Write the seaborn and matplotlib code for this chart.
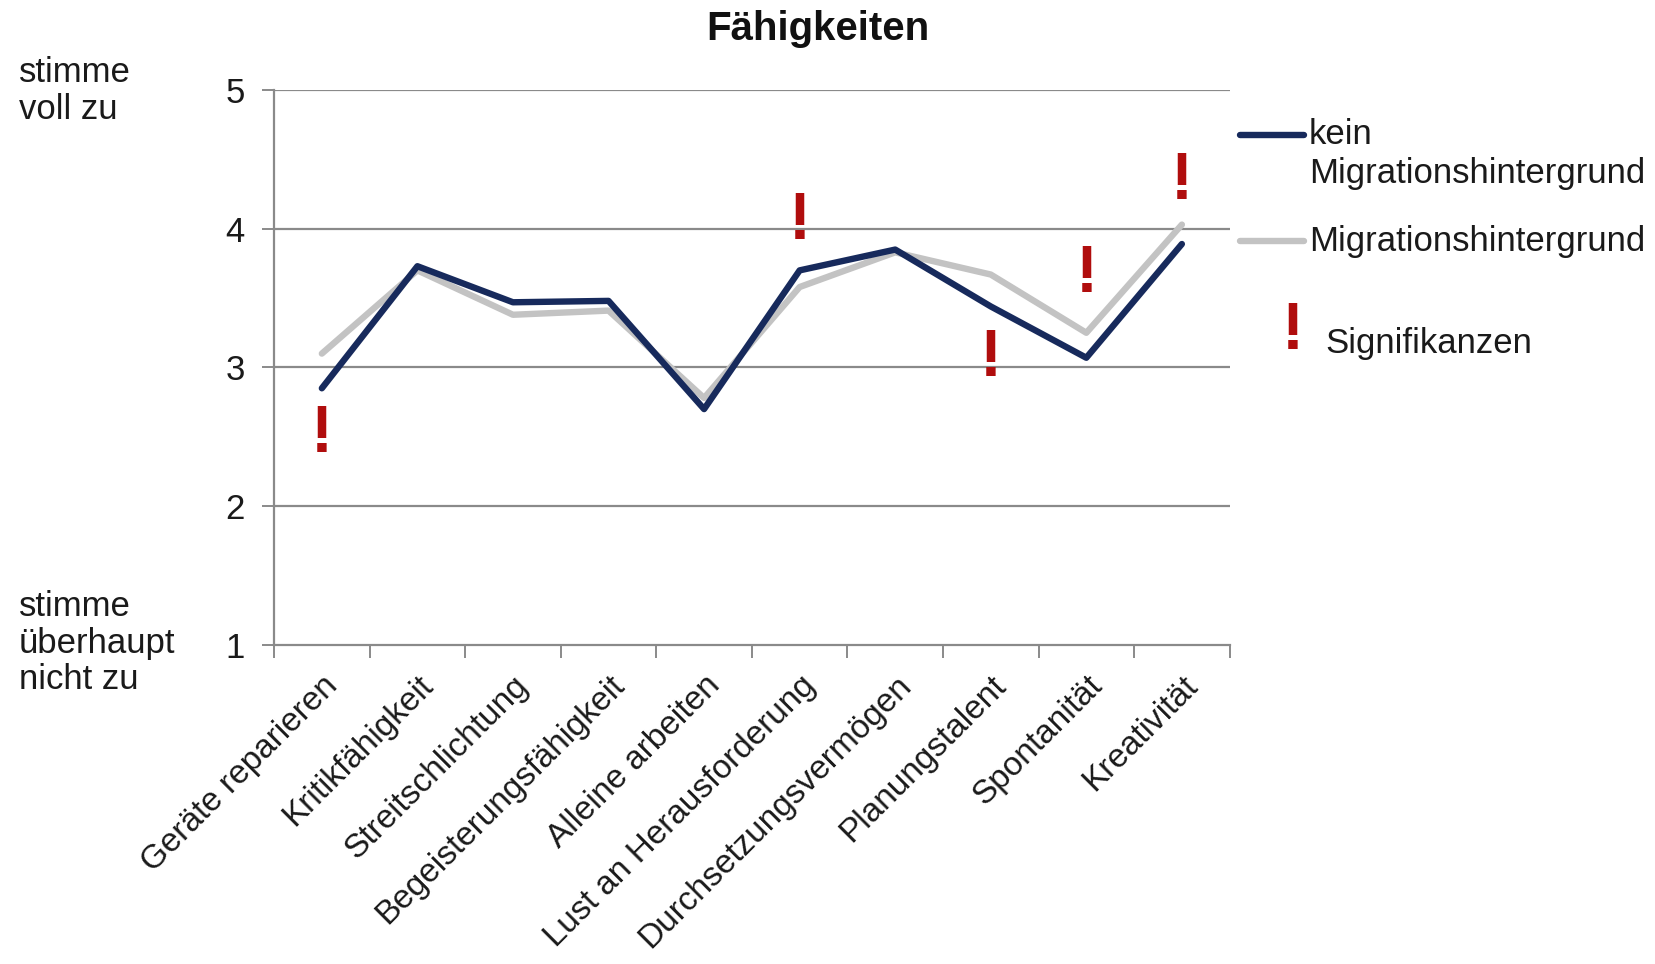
import matplotlib
matplotlib.use("Agg")
import matplotlib.pyplot as plt
import seaborn as sns
import pandas as pd
from matplotlib.lines import Line2D
from matplotlib.ticker import FixedLocator

categories = ["Geräte reparieren", "Kritikfähigkeit", "Streitschlichtung",
              "Begeisterungsfähigkeit", "Alleine arbeiten", "Lust an Herausforderung",
              "Durchsetzungsvermögen", "Planungstalent", "Spontanität", "Kreativität"]
kein_migration = [2.85, 3.73, 3.47, 3.48, 2.70, 3.70, 3.85, 3.44, 3.07, 3.89]
migration = [3.10, 3.70, 3.38, 3.41, 2.78, 3.58, 3.83, 3.67, 3.25, 4.03]
sig_index = [0, 5, 7, 8, 9]
sig_y = [2.51, 4.05, 3.06, 3.67, 4.34]
y_ticks = [1, 2, 3, 4, 5]

sns.set_theme(style="white")
plt.rcParams['font.family'] = ['Liberation Sans', 'DejaVu Sans']

DARK = "#172a5c"
LIGHT = "#c3c3c3"
RED = "#b00d0d"
GRID = "#8a8a8a"
TXT = "#1a1a1a"
FS = 25

df_k = pd.DataFrame({"x": range(len(categories)), "y": kein_migration})
df_m = pd.DataFrame({"x": range(len(categories)), "y": migration})

fig = plt.figure(figsize=(16.55, 9.64), dpi=100)
ax = fig.add_axes([0.1656, 0.331, 0.743 - 0.1656, 0.9066 - 0.331])

sns.lineplot(data=df_m, x="x", y="y", ax=ax, color=LIGHT, linewidth=4.6, zorder=3)
sns.lineplot(data=df_k, x="x", y="y", ax=ax, color=DARK, linewidth=4.6, zorder=4)

ax.set_xlim(-0.5, len(categories) - 0.5)
ax.set_ylim(1, 5)
ax.set_yticks(y_ticks)
ax.set_yticklabels([str(t) for t in y_ticks], fontsize=FS, color=TXT)
for t in y_ticks[1:]:
    ax.axhline(t, color=GRID, linewidth=1.6, zorder=1)

ax.set_xticks(range(len(categories)))
ax.set_xticklabels(categories, rotation=45, ha="right", rotation_mode="anchor",
                   fontsize=24, color=TXT)
ax.xaxis.set_minor_locator(FixedLocator([i - 0.5 for i in range(len(categories) + 1)]))
ax.tick_params(axis="x", which="major", length=0, pad=18)
ax.tick_params(axis="x", which="minor", length=9, width=1.4, color=GRID, direction="out", bottom=True)
ax.tick_params(axis="y", which="major", length=9, width=1.4, color=GRID, direction="out", left=True, pad=12)
ax.set_xlabel("")
ax.set_ylabel("")

for side in ["top", "right"]:
    ax.spines[side].set_visible(False)
for side in ["left", "bottom"]:
    ax.spines[side].set_color(GRID)
    ax.spines[side].set_linewidth(1.6)

for i, yv in zip(sig_index, sig_y):
    ax.text(i, yv, "!", color=RED, fontsize=48, fontweight="bold",
            ha="center", va="center", zorder=5)

fig.text(818 / 1655, 1 - 29 / 964, "Fähigkeiten", fontsize=29, fontweight="bold",
         ha="center", va="center", color="#111111")

fig.text(19 / 1655, 1 - 91 / 964, "stimme\nvoll zu", fontsize=FS, ha="left", va="center",
         linespacing=1.15, color=TXT)
fig.text(19 / 1655, 1 - 643 / 964, "stimme\nüberhaupt\nnicht zu", fontsize=FS, ha="left",
         va="center", linespacing=1.15, color=TXT)

# legend (manual)
fig.add_artist(Line2D([1240 / 1655, 1304 / 1655], [1 - 135 / 964, 1 - 135 / 964],
                      color=DARK, linewidth=4.6, transform=fig.transFigure))
fig.text(1309 / 1655, 1 - 135 / 964, "kein", fontsize=FS, ha="left", va="center", color=TXT)
fig.text(1309 / 1655, 1 - 174 / 964, "Migrationshintergrund", fontsize=FS, ha="left",
         va="center", color=TXT)
fig.add_artist(Line2D([1240 / 1655, 1304 / 1655], [1 - 241 / 964, 1 - 241 / 964],
                      color=LIGHT, linewidth=4.6, transform=fig.transFigure))
fig.text(1309 / 1655, 1 - 241 / 964, "Migrationshintergrund", fontsize=FS, ha="left",
         va="center", color=TXT)
fig.text(1293 / 1655, 1 - 332 / 964, "!", fontsize=48, fontweight="bold", color=RED,
         ha="center", va="center")
fig.text(1325 / 1655, 1 - 343 / 964, "Signifikanzen", fontsize=FS, ha="left",
         va="center", color=TXT)

fig.savefig("out.png", dpi=100)
